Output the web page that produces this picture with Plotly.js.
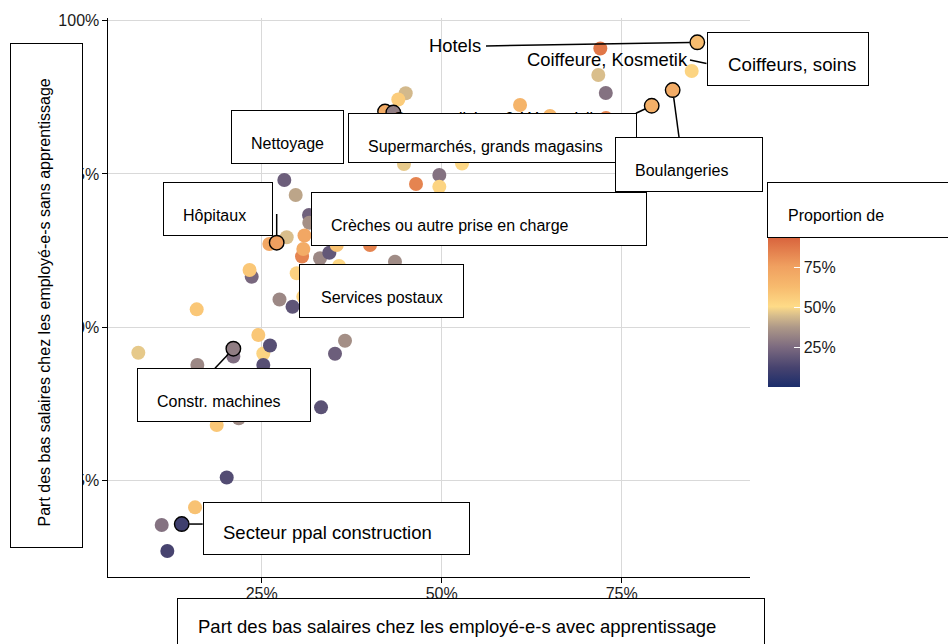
<!DOCTYPE html>
<html><head><meta charset="utf-8">
<script src="https://cdn.plot.ly/plotly-3.0.1.min.js"></script>
<style>html,body{margin:0;padding:0;background:#fff}</style>
</head><body>
<div id="chart" style="width:948px;height:644px"></div>
<script>
// ---------------- DATA ----------------
// background branches: share of low wages with apprenticeship (x), without (y), proportion (colour)
const bgX = [72.03,71.75,72.79,84.72,60.88,65.04,72.82,45.0,43.97,44.76,52.82,49.67,49.67,46.43,
             28.14,29.72,31.57,31.61,28.47,26.06,30.94,30.6,30.78,33.1,34.39,29.86,23.61,23.31,
             27.47,29.28,15.97,30.78,43.51,40.04,35.42,35.74,7.86,24.53,25.22,26.15,21.06,16.06,
             25.22,36.57,35.18,33.24,18.75,21.81,20.14,15.74,11.11,11.89];
const bgY = [95.44,91.12,88.18,91.77,86.23,84.44,84.11,88.14,87.12,76.61,76.70,74.82,72.91,73.35,
             74.01,71.56,68.30,67.05,64.67,63.58,64.96,61.54,62.76,61.25,62.16,58.80,58.25,59.34,
             54.53,53.36,52.93,54.99,60.69,63.41,63.41,59.99,45.86,48.75,45.73,47.03,45.24,43.86,
             43.86,47.82,45.70,36.96,34.08,35.17,25.52,20.66,17.78,13.54];
const bgShare = [88,45,27,53,66,64,84,44,56,47,52,27,53,84,
                 21,40,22,35,45,72,72,84,70,33,19,54,24,58,
                 33,18,58,53,34,84,60,52,47,58,53,16,26,33,
                 16,35,21,17,58,34,15,60,27,12];

// highlighted (labelled) branches
const hiName  = ['Hotels','Boulangeries','Supermarchés','Supermärkte & Warenhäuser','Grossverteiler',
                 'Hôpitaux','Constr. machines','Secteur ppal construction'];
const hiX     = [85.5, 82.08, 79.17, 42.13, 43.28, 27.08, 21.06, 13.89];
const hiY     = [96.45, 88.67, 86.11, 85.17, 85.01, 63.79, 46.51, 17.94];
const hiShare = [62, 70, 68, 70, 30, 76, 30, 10];

// label texts
const germanLabels = ['Hotels', 'Coiffeure, Kosmetik', 'Supermärkte & Warenhäuser'];
const frenchLabels = ['Nettoyage','Supermarchés, grands magasins','Boulangeries','Coiffeurs, soins',
                      'Hôpitaux','Crèches ou autre prise en charge','Services postaux',
                      'Constr. machines','Secteur ppal construction','Proportion de'];
const xTitle = 'Part des bas salaires chez les employé-e-s avec apprentissage';
const yTitle = 'Part des bas salaires chez les employé-e-s sans apprentissage';

const xTicks = [25, 50, 75];
const xTickText = ['25%', '50%', '75%'];
const yTicks = [25, 50, 75, 100];
const yTickText = ['25%', '50%', '75%', '100%'];
const cbTicks = [25, 50, 75];
const cbTickText = ['25%', '50%', '75%'];

// ---------------- GEOMETRY ----------------
const W=948, H=644, L=108, R=198, T=18, B=67;
const PW=W-L-R, PH=H-T-B;
const xRange=[3.65, 92.82], yRange=[9.31, 100.41];
const cMin=0, cMax=93.3;
const toPX = v => L + (v - xRange[0])/(xRange[1]-xRange[0])*PW;
const toPY = v => T + (yRange[1]-v)/(yRange[1]-yRange[0])*PH;
const fromPX = px => xRange[0] + (px-L)/PW*(xRange[1]-xRange[0]);
const fromPY = py => yRange[1] - (py-T)/PH*(yRange[1]-yRange[0]);
const paperX = px => (px-L)/PW;
const paperY = py => (H-B-py)/PH;

const FONT = 'Liberation Sans, Arial, Helvetica, sans-serif';
const scale = [[0,'#1b2d6b'],[0.13,'#47436f'],[0.27,'#7d6b80'],[0.40,'#ad9888'],[0.48,'#d7bd8c'],
               [0.54,'#fedb87'],[0.67,'#f7bb6e'],[0.81,'#f0a060'],[1,'#d9653e']];

// ---------------- TRACES ----------------
const bg = {
  type:'scatter', mode:'markers', x:bgX, y:bgY, hoverinfo:'skip',
  marker:{size:14, color:bgShare, colorscale:scale, cmin:cMin, cmax:cMax, line:{width:0},
    showscale:true,
    colorbar:{thickness:31.6, thicknessmode:'pixels', len:149, lenmode:'pixels',
      x:paperX(767.7), xanchor:'left', xpad:0, y:paperY(312.8), yanchor:'middle', ypad:0,
      outlinewidth:0, tickmode:'array', tickvals:cbTicks, ticktext:cbTickText, ticks:'inside', ticklen:6,
      tickcolor:'white', tickwidth:1, tickfont:{family:FONT, size:16, color:'#1a1a1a'},
      title:{text:''}}}
};
const hi = {
  type:'scatter', mode:'markers', x:hiX, y:hiY, text:hiName, hoverinfo:'text',
  marker:{size:14.5, color:hiShare, colorscale:scale, cmin:cMin, cmax:cMax, showscale:false,
    line:{width:1.4, color:'black'}}
};

// ---------------- LABELS ----------------
const annotations = [];
function textAnn(text, px, baseline, size, anchor){
  annotations.push({xref:'paper', yref:'paper', x:paperX(px), y:paperY(baseline-0.35*size),
    xanchor:anchor||'left', yanchor:'middle', text:text, showarrow:false, borderpad:0,
    font:{family:FONT, size:size, color:'black'}});
}
function boxAnn(x0,y0,x1,y1){
  annotations.push({xref:'paper', yref:'paper', x:paperX(x0), y:paperY(y0), xanchor:'left', yanchor:'top',
    text:' ', showarrow:false, width:x1-x0-2, height:y1-y0-2, bgcolor:'white', bordercolor:'black',
    borderwidth:1, borderpad:0, font:{size:2}});
}
// German plain labels (beneath the boxes)
textAnn(germanLabels[0], 482, 52.3, 18.4, 'right');
textAnn(germanLabels[1], 526, 66, 18.4);
textAnn(germanLabels[2], 392, 124.5, 18.4);

// boxed labels: [x0,y0,x1,y1,textLeft,baseline,size]
const boxGeo = [
  [231,110,344,164, 251,149.3,16],
  [347.7,113.3,636.7,163.3, 368.3,151.7,16],
  [615,136.7,763.3,191.7, 635.3,176,16],
  [707.3,31.7,869,86, 727.7,70.7,18.7],
  [162.7,182,272.3,236.3, 183.3,221,16],
  [311,192.3,647.3,246.7, 331,231,16],
  [299.3,264,464,318.3, 320.7,303.3,16],
  [136.7,368.3,310.7,422.3, 157.3,406.7,16],
  [202.7,501.7,470,555, 223.3,539.3,18.5],
  [767.3,181.7,1010,237.3, 788.3,220.7,16]
];
frenchLabels.forEach((t,i)=>{
  const g = boxGeo[i];
  boxAnn(g[0],g[1],g[2],g[3]);
  textAnn(t, g[4]-1, g[5], g[6]);
});
// axis titles in boxes
boxAnn(10,43,83,548);
annotations.push({xref:'paper', yref:'paper', x:paperX(43.5), y:paperY(303), xanchor:'center', yanchor:'middle',
  text:yTitle, textangle:-90, showarrow:false, borderpad:0, font:{family:FONT, size:16, color:'black'}});
boxAnn(177,598,765,670);
textAnn(xTitle, 197, 633.3, 18.5);

// ---------------- CONNECTORS ----------------
const shapes = [];
function seg(px0,py0,px1,py1){
  shapes.push({type:'line', xref:'x', yref:'y', layer:'above',
    x0:fromPX(px0), y0:fromPY(py0), x1:fromPX(px1), y1:fromPY(py1),
    line:{color:'black', width:1.5}});
}
function connect(i, ex, ey){
  const sx=toPX(hiX[i]), sy=toPY(hiY[i]);
  const dx=ex-sx, dy=ey-sy, d=Math.hypot(dx,dy), r=7.5;
  seg(sx+dx/d*r, sy+dy/d*r, ex, ey);
}
connect(0, 486, 46);
connect(2, 636, 113.3);
connect(1, 679, 137);
connect(5, toPX(hiX[5]), 214);
connect(6, 215, 368.3);
connect(7, 202.7, toPY(hiY[7]));
seg(690, 60, 706.5, 63.5);

// ---------------- LAYOUT ----------------
const axisCommon = {showline:true, linecolor:'black', linewidth:1.1, ticks:'outside', ticklen:4.5,
  tickcolor:'black', tickwidth:1, showgrid:true, gridcolor:'#d9d9d9', gridwidth:1.3, zeroline:false,
  tickfont:{family:FONT, size:16, color:'#1a1a1a'}, fixedrange:true, tickmode:'array'};
const layout = {
  width:W, height:H, margin:{l:L, r:R, t:T, b:B, pad:0},
  paper_bgcolor:'white', plot_bgcolor:'white', showlegend:false,
  font:{family:FONT},
  xaxis:Object.assign({}, axisCommon, {range:xRange, tickvals:xTicks, ticktext:xTickText, ticklabelstandoff:-3}),
  yaxis:Object.assign({}, axisCommon, {range:yRange, tickvals:yTicks, ticktext:yTickText}),
  annotations:annotations, shapes:shapes
};
Plotly.newPlot('chart', [bg, hi], layout, {displayModeBar:false, responsive:false});
</script>
</body></html>
